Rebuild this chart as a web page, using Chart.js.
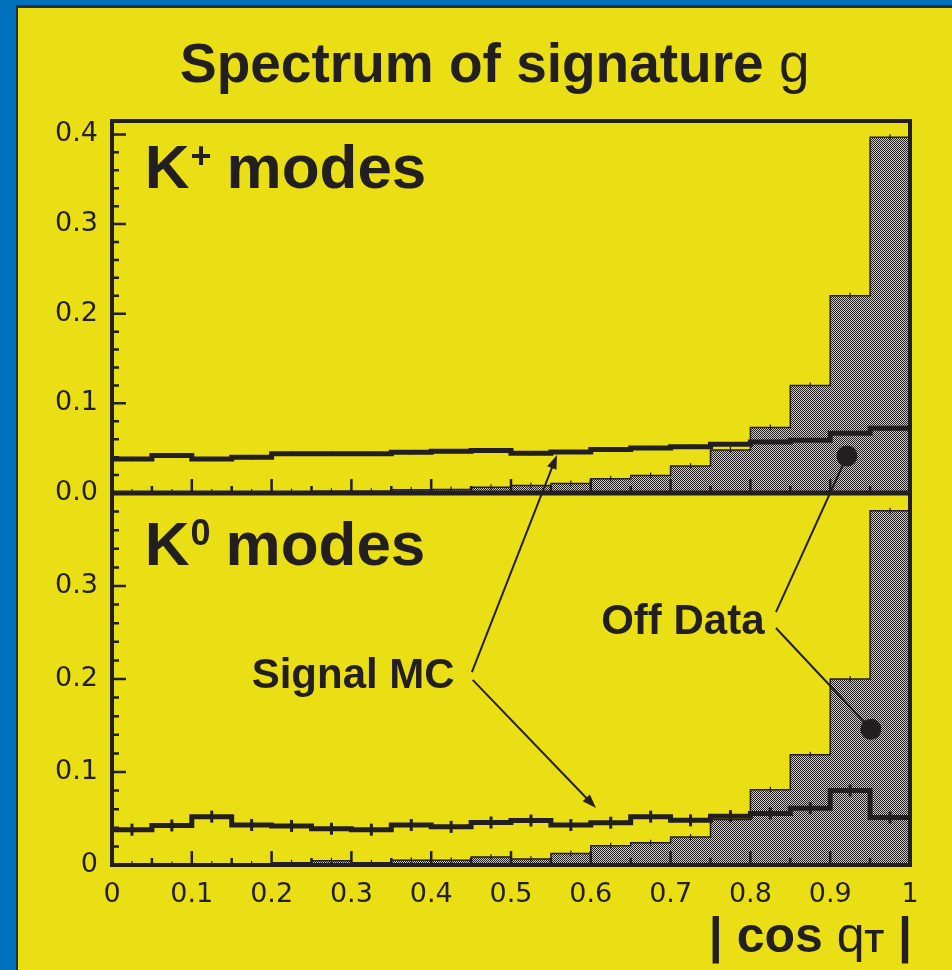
<!DOCTYPE html>
<html>
<head>
<meta charset="utf-8">
<script src="https://cdn.jsdelivr.net/npm/chart.js@4.4.1/dist/chart.umd.min.js"></script>
<style>
  html, body { margin: 0; padding: 0; }
  body { width: 952px; height: 970px; background: #0072bd; position: relative; overflow: hidden; }
  #frame { position: absolute; left: 16px; top: 5px; width: 934px; height: 962px;
           background: #eadf14; border-left: 2px solid #23303a; border-top: 3px solid #23303a; }
  #c { position: absolute; left: 0; top: 0; }
  .title { position: absolute; z-index: 2; left: 180px; top: 36px; white-space: nowrap; color: #231f20;
           font-family: "Liberation Sans", Arial, sans-serif; font-size: 55px; line-height: 1; }
  .xtitle { position: absolute; z-index: 2; right: 40px; top: 910px; white-space: nowrap; color: #231f20;
            font-family: "Liberation Sans", Arial, sans-serif; font-size: 50px; line-height: 1; }
  b { font-weight: bold; }
  .thin { font-weight: normal; }
  .sub { font-size: 32px; font-weight: bold; }
</style>
</head>
<body>
<div id="frame"><canvas id="c" width="934" height="962"></canvas></div>
<div class="title"><b>Spectrum of signature</b><span class="thin"> g</span></div>
<div class="xtitle"><b>| cos </b><span class="thin">q</span><span class="sub">T</span><b> |</b></div>

<script>
// bin edges of |cos theta_T|
const binEdges = [0.00, 0.05, 0.10, 0.15, 0.20, 0.25, 0.30, 0.35, 0.40, 0.45, 0.50,
                  0.55, 0.60, 0.65, 0.70, 0.75, 0.80, 0.85, 0.90, 0.95, 1.00];

// K+ modes (upper panel)
const kplusOffData  = [0.001, 0.001, 0.001, 0.001, 0.0015, 0.002, 0.002, 0.0035, 0.004, 0.0065,
                       0.0085, 0.0105, 0.016, 0.0195, 0.030, 0.048, 0.073, 0.120, 0.220, 0.397];
const kplusSignalMC = [0.038, 0.0417, 0.038, 0.0398, 0.0439, 0.0439, 0.0439, 0.0454, 0.0465, 0.0473,
                       0.0443, 0.0458, 0.0484, 0.0502, 0.0517, 0.0543, 0.0569, 0.0588, 0.0666, 0.0722];

// K0 modes (lower panel)
const kzeroOffData  = [0.001, 0.0005, 0.001, 0.001, 0.0025, 0.0047, 0.0025, 0.005, 0.005, 0.0086,
                       0.0065, 0.0125, 0.0208, 0.024, 0.030, 0.049, 0.081, 0.1185, 0.200, 0.381];
const kzeroSignalMC = [0.038, 0.0425, 0.052, 0.043, 0.042, 0.039, 0.038, 0.043, 0.041, 0.0457,
                       0.0478, 0.043, 0.0455, 0.052, 0.048, 0.0525, 0.0555, 0.061, 0.080, 0.051];

const xTickLabels = ['0', '0.1', '0.2', '0.3', '0.4', '0.5', '0.6', '0.7', '0.8', '0.9', '1'];
const yTickLabelsTop = ['0.0', '0.1', '0.2', '0.3', '0.4'];
const yTickLabelsBottom = ['0', '0.1', '0.2', '0.3'];

const ink = '#231f20';
const yellow = '#eadf14';

// cross-hatch fill used for the off-resonance data
function hatch()
{
    const p = document.createElement('canvas');
    p.width = 2; p.height = 2;
    const g = p.getContext('2d');
    g.fillStyle = yellow;
    g.fillRect(0, 0, 2, 2);
    g.fillStyle = ink;
    g.fillRect(0, 0, 1, 1);
    g.fillRect(1, 1, 1, 1);
    return g.createPattern(p, 'repeat');
}

// histogram outline: one point per left edge, last value repeated at x=1
const steps = vals => binEdges.map((x, i) => ({x: x, y: vals[Math.min(i, vals.length - 1)]}));
// bin centres, for the error ticks
const centres = vals => vals.map((v, i) => ({x: (binEdges[i] + binEdges[i + 1]) / 2, y: v}));

const ctx = document.getElementById('c').getContext('2d');
const fillPattern = hatch();

function histo(vals, axis, off)
{
    return {
        data: steps(vals), yAxisID: axis, stepped: 'before',
        borderColor: ink, borderWidth: off ? 1.5 : 5, pointRadius: 0,
        borderJoinStyle: 'miter', borderCapStyle: 'butt',
        fill: off ? 'origin' : false, backgroundColor: off ? fillPattern : 'transparent',
        order: off ? 4 : 2
    };
}

function errTicks(vals, axis, len, width, order)
{
    return {
        data: centres(vals), yAxisID: axis, showLine: false,
        pointStyle: 'line', rotation: 90, pointRadius: len,
        borderColor: ink, pointBorderWidth: width, order: order
    };
}

// annotation anchors, in data coordinates
const annot = {
    kplus:   {x: 0.041, y: 0.340, axis: 'yTop'},
    kzero:   {x: 0.041, y: 0.3226, axis: 'yBot'},
    mcText:  {x: 0.175, y: 0.190, axis: 'yBot'},
    offText: {x: 0.613, y: 0.248, axis: 'yBot'},
    mcArrows: [
        [{x: 0.451, y: 0.2075, axis: 'yBot'}, {x: 0.5576, y: 0.0424, axis: 'yTop'}],
        [{x: 0.452, y: 0.199, axis: 'yBot'}, {x: 0.6065, y: 0.0613, axis: 'yBot'}]
    ],
    offLines: [
        [{x: 0.832, y: 0.272, axis: 'yBot'}, {x: 0.921, y: 0.0413, axis: 'yTop'}],
        [{x: 0.832, y: 0.2548, axis: 'yBot'}, {x: 0.951, y: 0.146, axis: 'yBot'}]
    ]
};

const decor = {
    id: 'decor',
    afterDatasetsDraw(chart)
    {
        const {ctx, chartArea: a, scales} = chart;
        const sx = scales.x;
        const P = p => [sx.getPixelForValue(p.x), scales[p.axis].getPixelForValue(p.y)];
        ctx.save();
        ctx.strokeStyle = ink;
        ctx.fillStyle = ink;

        // tick marks drawn inside the frame
        ctx.lineWidth = 2.5;
        ctx.beginPath();
        for (const axis of ['yTop', 'yBot'])
        {
            const ys = scales[axis];
            binEdges.forEach((e, i) => {
                const xp = sx.getPixelForValue(e);
                const len = i % 2 === 0 ? 14 : 7;
                ctx.moveTo(xp, ys.bottom);
                ctx.lineTo(xp, ys.bottom - len);
            });
            for (let i = 0; i * 0.02 <= ys.max + 1e-9; i++)
            {
                const yp = ys.getPixelForValue(i * 0.02);
                const len = i % 5 === 0 ? 14 : 7;
                ctx.moveTo(a.left, yp);
                ctx.lineTo(a.left + len, yp);
            }
        }
        ctx.stroke();

        // frame and panel divider
        ctx.lineWidth = 4;
        ctx.strokeRect(a.left, a.top, a.width, a.height);
        ctx.lineWidth = 5;
        ctx.beginPath();
        ctx.moveTo(a.left, scales.yTop.bottom);
        ctx.lineTo(a.right + 2, scales.yTop.bottom);
        ctx.stroke();

        // panel labels
        const modeLabel = (anchor, sup) => {
            const [x, y] = P(anchor);
            ctx.font = 'bold 62px "Liberation Sans", Arial';
            ctx.fillText('K', x, y);
            const wk = ctx.measureText('K').width;
            ctx.font = 'bold 36px "Liberation Sans", Arial';
            ctx.fillText(sup, x + wk + 1, y - 20);
            const ws = ctx.measureText(sup).width;
            ctx.font = 'bold 62px "Liberation Sans", Arial';
            ctx.fillText('modes', x + wk + ws + 16, y);
        };
        ctx.textBaseline = 'alphabetic';
        modeLabel(annot.kplus, '+');
        modeLabel(annot.kzero, '0');

        ctx.font = 'bold 42px "Liberation Sans", Arial';
        let [tx, ty] = P(annot.mcText);
        ctx.fillText('Signal MC', tx, ty);
        [tx, ty] = P(annot.offText);
        ctx.fillText('Off Data', tx, ty);

        // arrows to the signal MC curves
        ctx.lineWidth = 2;
        for (const [s, t] of annot.mcArrows)
        {
            const [x0, y0] = P(s), [x1, y1] = P(t);
            const ang = Math.atan2(y1 - y0, x1 - x0);
            ctx.beginPath();
            ctx.moveTo(x0, y0);
            ctx.lineTo(x1 - 8 * Math.cos(ang), y1 - 8 * Math.sin(ang));
            ctx.stroke();
            ctx.beginPath();
            ctx.moveTo(x1, y1);
            ctx.lineTo(x1 - 14 * Math.cos(ang) + 5 * Math.sin(ang), y1 - 14 * Math.sin(ang) - 5 * Math.cos(ang));
            ctx.lineTo(x1 - 14 * Math.cos(ang) - 5 * Math.sin(ang), y1 - 14 * Math.sin(ang) + 5 * Math.cos(ang));
            ctx.closePath();
            ctx.fill();
        }

        // lines with dots to the off data histograms
        for (const [s, t] of annot.offLines)
        {
            const [x0, y0] = P(s), [x1, y1] = P(t);
            ctx.beginPath();
            ctx.moveTo(x0, y0);
            ctx.lineTo(x1, y1);
            ctx.stroke();
            ctx.beginPath();
            ctx.arc(x1, y1, 10.5, 0, Math.PI * 2);
            ctx.fill();
        }
        ctx.restore();
    }
};

const tickFont = {family: '"DejaVu Sans", sans-serif', size: 27};
const pick = (labels, v) => labels[Math.round(v * 10)] ?? '';

const chart = new Chart(ctx, {
    type: 'line',
    data: {
        datasets: [
            histo(kplusSignalMC, 'yTop', false),
            errTicks(kplusSignalMC, 'yTop', 2, 3, 1),
            histo(kplusOffData, 'yTop', true),
            errTicks(kplusOffData, 'yTop', 3, 1.2, 3),
            histo(kzeroSignalMC, 'yBot', false),
            errTicks(kzeroSignalMC, 'yBot', 6, 3, 1),
            histo(kzeroOffData, 'yBot', true),
            errTicks(kzeroOffData, 'yBot', 3, 1.2, 3)
        ]
    },
    options: {
        responsive: false,
        animation: false,
        layout: {padding: {top: 113, right: 42, left: 0, bottom: 0}},
        plugins: {legend: {display: false}, tooltip: {enabled: false}},
        scales: {
            x: {
                type: 'linear', position: 'bottom', min: 0, max: 1,
                grid: {display: false}, border: {display: false},
                ticks: {stepSize: 0.1, autoSkip: false, maxRotation: 0, padding: 6,
                        color: ink, font: tickFont, callback: v => pick(xTickLabels, v)},
                afterFit: s => { s.height = 105; }
            },
            yBot: {
                type: 'linear', position: 'left', stack: 'panels', stackWeight: 1,
                min: 0, max: 0.4,
                grid: {display: false}, border: {display: false},
                ticks: {stepSize: 0.1, includeBounds: false, padding: 6,
                        color: ink, font: tickFont, callback: v => pick(yTickLabelsBottom, v)},
                afterFit: s => { s.width = 94; }
            },
            yTop: {
                type: 'linear', position: 'left', stack: 'panels', stackWeight: 1,
                min: 0, max: 0.415,
                grid: {display: false}, border: {display: false},
                ticks: {stepSize: 0.1, includeBounds: false, padding: 6,
                        color: ink, font: tickFont, callback: v => pick(yTickLabelsTop, v)},
                afterFit: s => { s.width = 94; }
            }
        }
    },
    plugins: [decor]
});
</script>
</body>
</html>
